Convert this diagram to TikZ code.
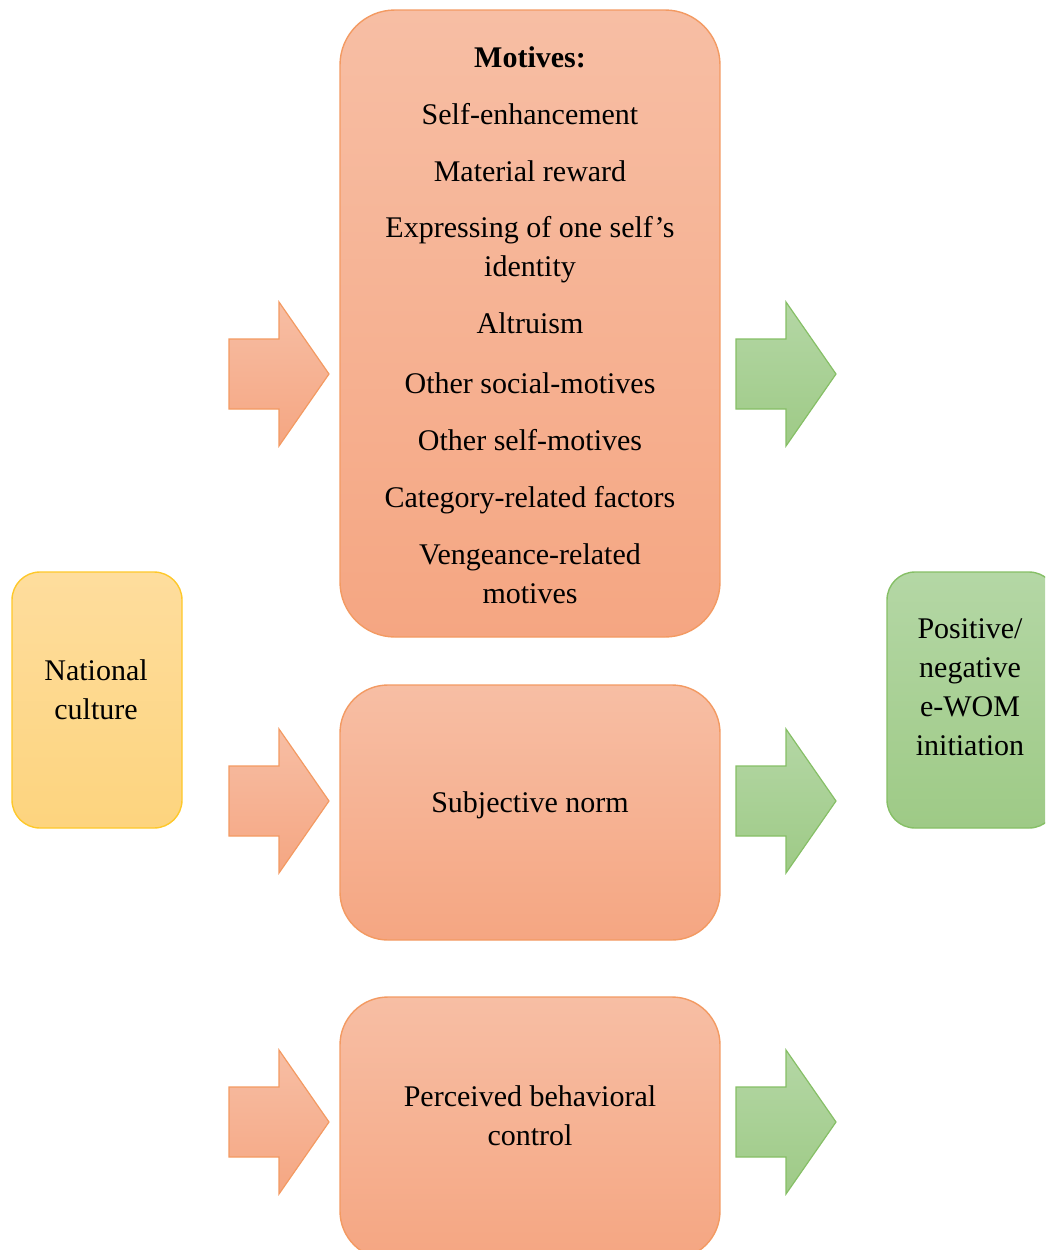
\documentclass[tikz,border=0pt]{standalone}
\usepackage{fontspec}
\setmainfont{Liberation Serif}
\definecolor{otop}{HTML}{F7BEA4}
\definecolor{obot}{HTML}{F5A682}
\definecolor{oline}{HTML}{F39A62}
\definecolor{gtop}{HTML}{B4D7A5}
\definecolor{gbot}{HTML}{9ECA86}
\definecolor{gline}{HTML}{86BF66}
\definecolor{ytop}{HTML}{FEDD9D}
\definecolor{ybot}{HTML}{FDD47E}
\definecolor{yline}{HTML}{FEC82A}
\tikzset{
  obox/.style={draw=oline, line width=1.4pt, top color=otop, bottom color=obot, rounded corners=55pt, inner sep=0pt},
  gbox/.style={draw=gline, line width=1.4pt, top color=gtop, bottom color=gbot, rounded corners=28pt, inner sep=0pt},
  ybox/.style={draw=yline, line width=1.4pt, top color=ytop, bottom color=ybot, rounded corners=28pt, inner sep=0pt},
  oarrow/.style={draw=oline, line width=1.2pt, top color=otop, bottom color=obot, line join=miter},
  garrow/.style={draw=gline, line width=1.2pt, top color=gtop, bottom color=gbot, line join=miter},
  txt/.style={anchor=base, align=center, inner sep=0pt, font=\fontsize{30pt}{39pt}\selectfont}
}
\begin{document}
\begin{tikzpicture}[x=1pt,y=-1pt]
\useasboundingbox (0,0) rectangle (1045,1250);
\begin{scope}
\clip (0,0) rectangle (1045,1250);
% boxes
\node[obox, minimum width=380pt, minimum height=627pt] (motives) at (530,323.5) {};
\node[obox, rounded corners=48pt, minimum width=380pt, minimum height=255pt] (subj) at (530,812.5) {};
\node[obox, rounded corners=48pt, minimum width=380pt, minimum height=262pt] (pbc) at (530,1128) {};
\node[ybox, minimum width=170pt, minimum height=256pt] (nat) at (97,700) {};
\node[gbox, minimum width=170pt, minimum height=256pt] (ewom) at (972,700) {};
% arrows
\foreach \cy/\n in {374/a, 801/b, 1122/c}{
  \draw[oarrow] (229,\cy-35) -- (279,\cy-35) -- (279,\cy-72) -- (329,\cy) -- (279,\cy+72) -- (279,\cy+35) -- (229,\cy+35) -- cycle;
  \draw[garrow] (736,\cy-35) -- (786,\cy-35) -- (786,\cy-72) -- (836,\cy) -- (786,\cy+72) -- (786,\cy+35) -- (736,\cy+35) -- cycle;
}
\end{scope}
% texts (anchor=base is the baseline of the last line)
\node[txt, font=\fontsize{30pt}{39pt}\selectfont\bfseries] (t0) at (530,67) {Motives:};
\node[txt] (t1) at (530,124) {Self-enhancement};
\node[txt] (t2) at (530,181) {Material reward};
\node[txt] (t3) at (530,276) {Expressing of one self’s\\identity};
\node[txt] (t4) at (530,333) {Altruism};
\node[txt] (t5) at (530,393) {Other social-motives};
\node[txt] (t6) at (530,450) {Other self-motives};
\node[txt] (t7) at (530,507) {Category-related factors};
\node[txt] (t8) at (530,603) {Vengeance-related\\motives};
\node[txt] (tn) at (96,719) {National\\culture};
\node[txt] (tp) at (970,755) {Positive/\\negative\\e-WOM\\initiation};
\node[txt] (ts) at (530,812) {Subjective norm};
\node[txt] (tb) at (530,1145) {Perceived behavioral\\control};
\end{tikzpicture}
\end{document}
